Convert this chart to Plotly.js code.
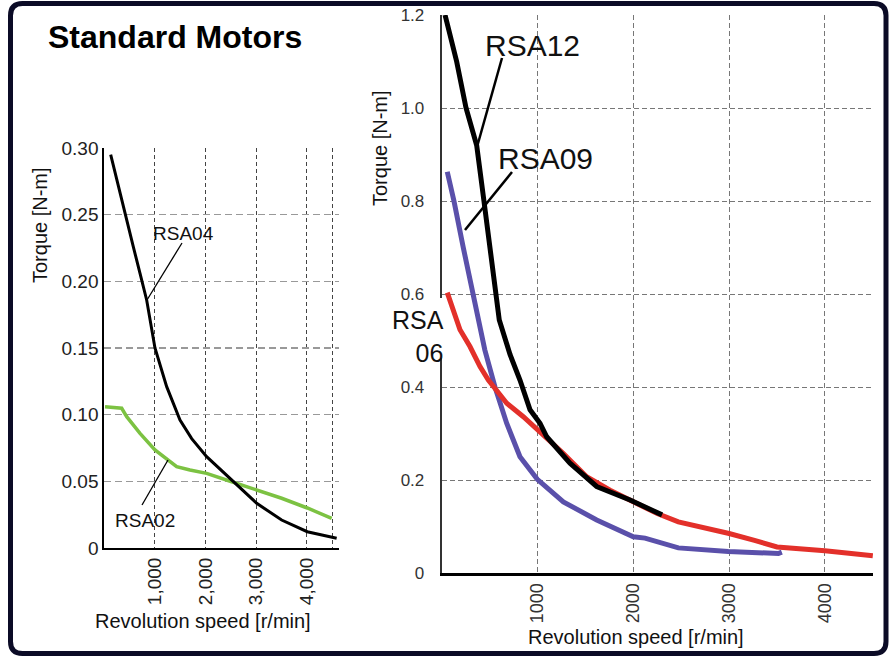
<!DOCTYPE html>
<html>
<head>
<meta charset="utf-8">
<script src="https://cdn.plot.ly/plotly-3.0.1.min.js"></script>
<style>html,body{margin:0;padding:0;background:#fff;}#chart{width:895px;height:657px;}</style>
</head>
<body>
<div id="chart"></div>
<script>
// ---------- data ----------
const rsa04Speed = [126, 310, 408, 572, 705, 836, 1000, 1231, 1494, 1725, 2020, 2514, 3008, 3500, 4006, 4586];
const rsa04Torque = [0.295, 0.266, 0.25, 0.226, 0.206, 0.186, 0.15, 0.121, 0.096, 0.082, 0.0685, 0.051, 0.0335, 0.021, 0.0122, 0.0073];

const rsa02Speed = [14, 343, 442, 705, 1000, 1231, 1428, 1691, 2020, 2514, 3008, 3500, 4006, 4488];
const rsa02Torque = [0.106, 0.1048, 0.0985, 0.086, 0.0735, 0.067, 0.061, 0.0585, 0.056, 0.0497, 0.0435, 0.0373, 0.030, 0.0223];

const rsa12Speed = [35, 156, 254, 365, 441, 504, 567, 601, 713, 817, 922, 1026, 1096, 1339, 1618, 1966, 2300];
const rsa12Torque = [1.2, 1.10, 1.00, 0.92, 0.80, 0.70, 0.60, 0.544, 0.47, 0.415, 0.351, 0.322, 0.293, 0.236, 0.186, 0.157, 0.125];

const rsa09Speed = [58, 128, 225, 323, 365, 450, 556, 678, 817, 998, 1270, 1618, 2000, 2122, 2470, 2992, 3514, 3550];
const rsa09Torque = [0.863, 0.80, 0.70, 0.60, 0.559, 0.48, 0.40, 0.322, 0.25, 0.2015, 0.153, 0.114, 0.078, 0.075, 0.054, 0.046, 0.042, 0.045];

const rsa06Speed = [58, 191, 295, 400, 487, 541, 626, 679, 852, 1026, 1270, 1513, 1757, 2000, 2250, 2470, 2690, 3000, 3265, 3500, 4000, 4500];
const rsa06Torque = [0.603, 0.523, 0.487, 0.444, 0.415, 0.40, 0.379, 0.365, 0.336, 0.304, 0.257, 0.207, 0.178, 0.153, 0.128, 0.110, 0.100, 0.085, 0.070, 0.056, 0.048, 0.037];

const leftXTicks = [1000, 2000, 3000, 4000, 4500];
const leftXLabels = ['1,000', '2,000', '3,000', '4,000', ''];
const leftYTicks = [0, 0.05, 0.10, 0.15, 0.20, 0.25, 0.30];
const leftYLabels = ['0', '0.05', '0.10', '0.15', '0.20', '0.25', '0.30'];
const rightXTicks = [1000, 2000, 3000, 4000, 4500];
const rightXLabels = ['1000', '2000', '3000', '4000', ''];
const rightYTicks = [0, 0.2, 0.4, 0.6, 0.8, 1.0, 1.2];
const rightYLabels = ['0', '0.2', '0.4', '0.6', '0.8', '1.0', '1.2'];

// ---------- layout helpers (pixel -> paper) ----------
const W = 895, H = 657;
const px = x => x / W;
const py = y => 1 - y / H;
const FONT = 'Liberation Sans, Arial, Helvetica, sans-serif';

const traces = [
  {x: rsa02Speed, y: rsa02Torque, xaxis: 'x', yaxis: 'y', mode: 'lines', line: {color: '#7cc242', width: 3.5}},
  {x: rsa04Speed, y: rsa04Torque, xaxis: 'x', yaxis: 'y', mode: 'lines', line: {color: '#000000', width: 3}},
  {x: rsa09Speed, y: rsa09Torque, xaxis: 'x2', yaxis: 'y2', mode: 'lines', line: {color: '#5a50aa', width: 5}},
  {x: rsa06Speed, y: rsa06Torque, xaxis: 'x2', yaxis: 'y2', mode: 'lines', line: {color: '#e3302a', width: 5}},
  {x: rsa12Speed, y: rsa12Torque, xaxis: 'x2', yaxis: 'y2', mode: 'lines', line: {color: '#000000', width: 5}}
];

function ann(text, x, y, size, opts) {
  return Object.assign({text: text, xref: 'paper', yref: 'paper', x: px(x), y: py(y),
    xanchor: 'center', yanchor: 'middle', showarrow: false,
    font: {family: FONT, size: size, color: '#111'}}, opts || {});
}
function seg(x0, y0, x1, y1, w) {
  return {type: 'line', xref: 'paper', yref: 'paper', x0: px(x0), y0: py(y0), x1: px(x1), y1: py(y1),
    line: {color: '#000', width: w}, layer: 'above'};
}
function P(x, y) { return px(x) + ',' + py(y); }
const bx0 = 10.5, bx1 = 886, by0 = 3.5, by1 = 653.5, r = 12;
const borderPath = 'M' + P(bx0 + r, by0) + ' L' + P(bx1 - r, by0) + ' Q' + P(bx1, by0) + ' ' + P(bx1, by0 + r) +
  ' L' + P(bx1, by1 - r) + ' Q' + P(bx1, by1) + ' ' + P(bx1 - r, by1) +
  ' L' + P(bx0 + r, by1) + ' Q' + P(bx0, by1) + ' ' + P(bx0, by1 - r) +
  ' L' + P(bx0, by0 + r) + ' Q' + P(bx0, by0) + ' ' + P(bx0 + r, by0) + ' Z';

const layout = {
  width: W, height: H,
  margin: {l: 0, r: 0, t: 0, b: 0},
  paper_bgcolor: '#ffffff', plot_bgcolor: 'rgba(0,0,0,0)',
  showlegend: false,
  xaxis: {
    domain: [px(104.3), px(339)], range: [0, 4632], anchor: 'y',
    tickvals: leftXTicks, ticktext: leftXLabels, tickangle: -90,
    tickfont: {family: FONT, size: 19, color: '#222'},
    showline: true, linecolor: '#000', linewidth: 2,
    showgrid: true, gridcolor: '#444', gridwidth: 1, griddash: '4px,3px',
    zeroline: false, ticks: ''
  },
  yaxis: {
    domain: [py(548), py(148)], range: [0, 0.30], anchor: 'x',
    tickvals: leftYTicks, ticktext: leftYLabels,
    tickfont: {family: FONT, size: 19, color: '#222'},
    showline: true, linecolor: '#000', linewidth: 2,
    showgrid: true, gridcolor: '#999', gridwidth: 1.2, griddash: '7px,4px',
    zeroline: false, ticks: ''
  },
  xaxis2: {
    domain: [px(441.7), px(873.3)], range: [0, 4505], anchor: 'y2',
    tickvals: rightXTicks, ticktext: rightXLabels, tickangle: -90,
    tickfont: {family: FONT, size: 18, color: '#333'},
    showline: true, linecolor: '#000', linewidth: 3,
    showgrid: true, gridcolor: '#777', gridwidth: 1, griddash: '5px,3px',
    zeroline: false, ticks: ''
  },
  yaxis2: {
    domain: [py(573), py(15)], range: [0, 1.2], anchor: 'x2',
    tickvals: rightYTicks, ticktext: rightYLabels,
    tickfont: {family: FONT, size: 17, color: '#333'},
    ticklabelstandoff: 12,
    showline: true, linecolor: '#333', linewidth: 2,
    showgrid: true, gridcolor: '#777', gridwidth: 1, griddash: '5px,3px',
    zeroline: false, ticks: ''
  },
  annotations: [
    ann('<b>Standard Motors</b>', 175, 37, 32, {font: {family: FONT, size: 32, color: '#000'}}),
    ann('Torque [N-m]', 40, 225, 20, {textangle: -90}),
    ann('Revolution speed [r/min]', 203, 621, 20),
    ann('RSA04', 183, 233, 19),
    ann('RSA02', 145, 520, 19),
    ann('Torque [N-m]', 380, 148, 20, {textangle: -90}),
    ann('Revolution speed [r/min]', 636, 637, 20),
    ann('RSA12', 532, 45, 30),
    ann('RSA09', 545, 158, 30),
    ann('RSA<br>06', 446, 336, 25, {xanchor: 'right', align: 'right'})
  ],
  shapes: [
    {type: 'rect', xref: 'paper', yref: 'paper', x0: px(436), x1: px(446), y0: py(298), y1: py(358),
      fillcolor: '#ffffff', line: {width: 0}, layer: 'above'},
    seg(182, 243, 147, 300, 1.3),
    seg(142, 505, 168, 460, 1.3),
    seg(502, 58, 477, 147, 2.5),
    seg(512, 172, 465, 230, 2.5),
    {type: 'path', xref: 'paper', yref: 'paper', path: borderPath,
      line: {color: '#0b0b26', width: 5}, fillcolor: 'rgba(0,0,0,0)', layer: 'above'}
  ]
};

Plotly.newPlot('chart', traces, layout, {displayModeBar: false, staticPlot: true});
</script>
</body>
</html>
